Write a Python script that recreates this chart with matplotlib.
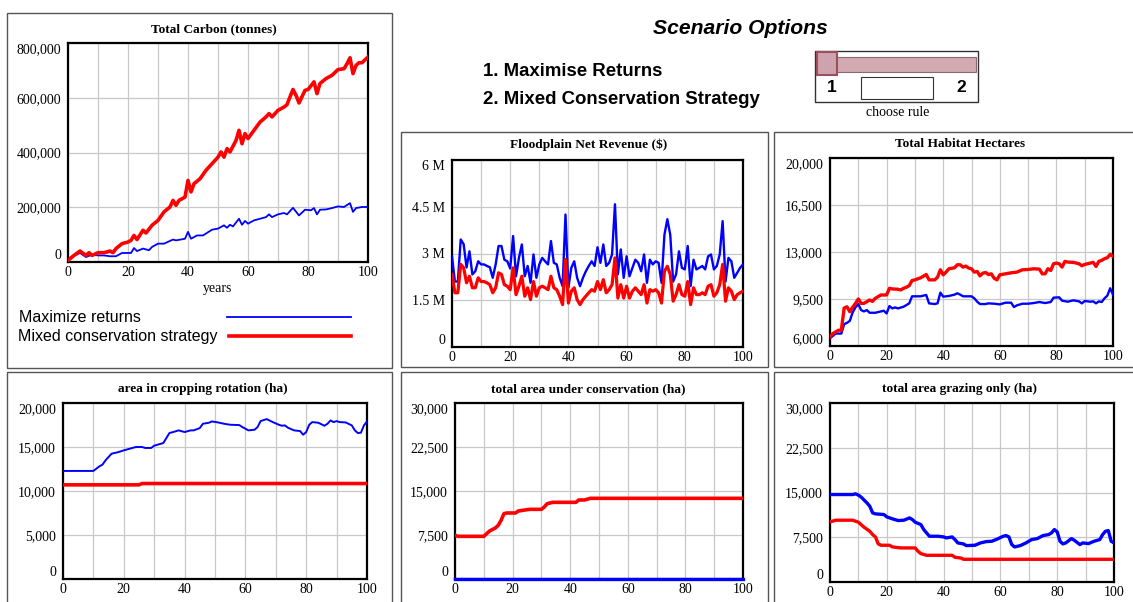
import numpy as np
import matplotlib.pyplot as plt
from matplotlib.patches import Rectangle

W, H = 1133, 602
BLUE = '#0000ff'
RED = '#ff0000'
SERIF = 'Liberation Serif'
SANS = 'Liberation Sans'

# ---- data ----
# Total Carbon, thousand tonnes
carbon_blue_yr = [0, 1, 2, 4, 6, 8, 10, 12, 14, 16, 18, 20, 21, 22, 23, 25, 27, 28, 30, 32, 34, 35, 36, 39,
                  40, 41, 43, 45, 48, 50, 52, 53, 54, 55, 57, 58, 59, 60, 62, 64, 66, 67, 68, 70, 72, 73,
                  75, 77, 79, 81, 82, 83, 84, 86, 88, 90, 92, 94, 95, 96, 98, 100]
carbon_blue = [0, 18, 22, 33, 18, 27, 24, 24, 21, 21, 33, 33, 33, 51, 40, 49, 43, 55, 67, 67, 77, 82, 79, 85,
               110, 85, 97, 97, 118, 122, 134, 125, 136, 130, 158, 136, 150, 140, 152, 158, 164, 174, 164,
               174, 179, 174, 198, 170, 191, 189, 197, 174, 191, 192, 197, 203, 201, 215, 183, 197, 201, 201]
carbon_red_yr = [0, 2, 4, 6, 7, 8, 10, 12, 14, 15, 16, 18, 20, 21, 22, 23, 25, 26, 28, 30, 32, 34, 35, 36, 37,
                 39, 40, 41, 42, 44, 46, 48, 50, 51, 52, 53, 54, 56, 57, 58, 59, 60, 62, 64, 66, 67, 68, 70,
                 72, 73, 74, 75, 76, 77, 79, 80, 82, 83, 84, 86, 88, 90, 92, 93, 94, 95, 96, 97, 98, 100]
carbon_red = [6, 24, 40, 24, 34, 24, 34, 34, 40, 34, 49, 67, 73, 79, 97, 82, 116, 106, 134, 152, 183, 201, 225,
              207, 225, 237, 298, 256, 286, 304, 335, 359, 383, 402, 383, 414, 402, 444, 481, 432, 469, 451,
              481, 511, 530, 542, 530, 554, 566, 575, 603, 630, 609, 581, 627, 630, 658, 615, 652, 670, 682,
              703, 706, 724, 746, 688, 718, 728, 728, 749]

# Floodplain Net Revenue, million $ (one value per year 0..100)
years = np.arange(0, 101)
flood_blue = [2.91, 2.1, 2.1, 3.45, 3.3, 2.55, 3.07, 2.33, 2.43, 2.75,
              2.65, 2.65, 2.6, 2.56, 2.22, 2.65, 3.24, 3.24, 2.8, 2.75,
              2.52, 3.56, 2.27, 2.86, 3.29, 2.27, 2.6, 2.06, 2.97, 2.22,
              2.65, 2.86, 2.75, 2.65, 3.4, 2.7, 2.65, 2.22, 1.95, 4.25,
              1.9, 2.54, 2.75, 2.22, 1.95, 2.22, 2.43, 2.6, 2.75, 2.6,
              3.2, 2.7, 3.29, 2.6, 2.7, 2.97, 4.58, 2.33, 3.13, 2.22,
              2.91, 2.27, 2.54, 2.8, 2.7, 2.43, 2.97, 2.06, 2.8, 2.65,
              2.75, 2.7, 2.06, 3.6, 4.1, 3.6, 2.1, 2.33, 3.07, 2.54,
              2.49, 3.24, 1.95, 2.8, 2.49, 2.54, 2.6, 2.49, 2.91, 2.97,
              2.49, 2.6, 2.97, 4.04, 2.1, 2.86, 2.75, 2.22, 2.38, 2.54,
              2.65]
flood_red = [2.33, 1.74, 1.74, 2.65, 2.54, 2.06, 2.27, 1.9, 1.9, 2.22,
             2.1, 2.1, 2.06, 2.0, 1.74, 1.9, 2.38, 2.33, 2.0, 1.95,
             1.84, 2.54, 1.68, 1.95, 2.27, 1.63, 1.9, 1.52, 2.1, 1.63,
             1.9, 1.95, 1.9, 1.84, 2.27, 1.9, 1.84, 1.63, 1.36, 2.81,
             1.41, 1.79, 1.9, 1.52, 1.36, 1.52, 1.63, 1.74, 1.84, 1.79,
             2.1, 1.84, 2.16, 1.74, 1.84, 2.0, 2.86, 1.57, 2.0, 1.57,
             1.95, 1.57, 1.79, 1.9, 1.79, 1.68, 2.0, 1.41, 1.84, 1.79,
             1.84, 1.74, 1.41, 2.43, 2.59, 2.33, 1.47, 1.68, 2.0, 1.68,
             1.63, 2.1, 1.36, 1.9, 1.68, 1.68, 1.74, 1.68, 1.95, 2.0,
             1.63, 1.74, 2.0, 2.65, 1.47, 1.9, 1.79, 1.52, 1.68, 1.74,
             1.79]

# Total Habitat Hectares
hab_blue_yr = [0, 2, 4, 5, 6, 7, 8, 9, 10, 11, 12, 13, 14, 16, 18, 19, 20, 21, 22, 23, 24, 26, 28, 29, 30, 32,
               34, 35, 37, 38, 39, 40, 42, 44, 45, 46, 47, 50, 51, 52, 53, 55, 56, 58, 60, 62, 64, 65, 66,
               68, 70, 72, 74, 76, 78, 79, 81, 82, 84, 86, 88, 89, 90, 92, 93, 94, 95, 96, 97, 98, 99, 100]
hab_blue = [6575, 6925, 6925, 7625, 7725, 7875, 8500, 8875, 9125, 8675, 8575, 8675, 8475, 8475, 8575, 8625,
            8425, 8975, 8800, 8875, 8800, 8925, 9175, 9700, 9700, 9700, 9800, 9175, 9125, 9175, 9975, 9675,
            9725, 9825, 9925, 9825, 9700, 9700, 9550, 9300, 9125, 9125, 9175, 9150, 9100, 9225, 9225, 8900,
            9025, 9150, 9150, 9200, 9275, 9200, 9275, 9600, 9625, 9375, 9300, 9400, 9325, 9175, 9350, 9300,
            9325, 9175, 9325, 9275, 9550, 9750, 10300, 9825]
hab_red_yr = [0, 1, 3, 4, 5, 6, 7, 8, 9, 10, 11, 12, 14, 15, 16, 18, 20, 21, 22, 24, 25, 26, 27, 28, 29, 30,
              32, 34, 35, 37, 38, 39, 40, 41, 42, 44, 45, 46, 47, 48, 49, 50, 51, 52, 53, 54, 55, 56, 57,
              58, 59, 60, 62, 64, 66, 68, 70, 72, 74, 75, 76, 77, 78, 79, 80, 81, 82, 83, 84, 86, 88, 89,
              90, 92, 93, 94, 95, 96, 97, 98, 99, 100]
hab_red = [6675, 6925, 7175, 7175, 8825, 8925, 8550, 8875, 9175, 9500, 9175, 9175, 9425, 9325, 9550, 9800,
           9800, 10300, 10250, 10225, 10175, 10300, 10375, 10500, 10875, 10925, 11075, 11325, 10925, 10925,
           11125, 11675, 11300, 11500, 11750, 11825, 12050, 12050, 11875, 11950, 11800, 11750, 11500, 11550,
           11225, 11425, 11475, 11325, 11375, 11050, 10925, 11300, 11375, 11450, 11500, 11675, 11700, 11750,
           11725, 11375, 11375, 11750, 11625, 12125, 12175, 12125, 11875, 12300, 12250, 12225, 12125, 11975,
           12075, 12175, 12225, 11925, 12300, 12375, 12500, 12575, 12825, 12675]

# area in cropping rotation (ha)
crop_blue_yr = [0, 10, 12, 13, 14, 16, 18, 20, 22, 24, 26, 27, 29, 30, 33, 35, 37, 38, 40, 42, 43, 45, 46, 48,
                49, 51, 53, 55, 58, 59, 61, 63, 64, 65, 67, 69, 71, 72, 73, 74, 76, 78, 79, 80, 81, 82, 84,
                86, 87, 88, 89, 90, 91, 93, 95, 96, 97, 98, 99, 100]
crop_blue = [12280, 12280, 12810, 13000, 13490, 14245, 14400, 14620, 14810, 15000, 15000, 14890, 14890, 15150,
             15450, 16585, 16775, 16890, 16700, 16890, 16890, 17150, 17640, 17755, 17905, 17790, 17640, 17530,
             17490, 17265, 16890, 16960, 17265, 17945, 18170, 17830, 17530, 17415, 17455, 17190, 16890, 16810,
             16395, 16700, 17530, 17830, 17755, 17415, 17640, 18020, 17830, 17945, 17830, 17790, 17455, 16890,
             16585, 16625, 17455, 17905]
crop_red_yr = [0, 25, 26, 100]
crop_red = [10700, 10700, 10850, 10850]

# total area under conservation (ha)
cons_red_yr = [0, 1, 10, 11, 12, 14, 15, 16, 17, 18, 21, 22, 25, 26, 30, 31, 32, 34, 42, 43, 45, 47, 100]
cons_red = [7440, 7270, 7270, 7730, 8180, 8690, 9150, 10000, 11140, 11250, 11250, 11590, 11820, 11875, 11875,
            12270, 12840, 13070, 13070, 13470, 13470, 13750, 13750]
cons_blue_yr = [0, 100]
cons_blue = [0, 0]

# total area grazing only (ha)
graze_blue_yr = [0, 8, 9, 10, 11, 13, 14, 15, 16, 19, 20, 22, 24, 26, 28, 29, 30, 32, 33, 35, 38, 40, 41, 43,
                 44, 45, 47, 48, 51, 53, 55, 57, 59, 61, 62, 63, 64, 65, 67, 69, 71, 73, 75, 77, 78, 79, 80,
                 81, 82, 83, 85, 86, 88, 89, 91, 93, 95, 96, 97, 98, 99, 100]
graze_blue = [14660, 14660, 14780, 14550, 14220, 13265, 12705, 11590, 11420, 11305, 10915, 10580, 10300, 10355,
              10745, 10465, 10020, 9625, 8790, 7670, 7670, 7555, 7390, 7555, 7110, 6550, 6380, 6100, 6155,
              6550, 6770, 6830, 7220, 7670, 7780, 7555, 6270, 5875, 6100, 6550, 7110, 7275, 7780, 7950, 8230,
              8790, 8395, 6830, 6380, 6550, 7275, 7000, 6270, 6550, 6435, 6830, 7110, 7950, 8505, 8620, 6830,
              6550]
graze_red_yr = [0, 2, 8, 10, 12, 14, 15, 16, 17, 18, 21, 22, 25, 30, 31, 32, 34, 43, 44, 46, 47, 100]
graze_red = [10075, 10355, 10355, 10020, 9180, 8505, 7950, 7555, 6380, 6155, 6155, 5875, 5710, 5710, 5150,
             4755, 4475, 4475, 4140, 4030, 3805, 3805]

# axis labels
carbon_ticks = [0, 200, 400, 600, 800]
carbon_labels = ['0', '200,000', '400,000', '600,000', '800,000']
flood_ticks = [0, 1.5, 3, 4.5, 6]
flood_labels = ['0', '1.5 M', '3 M', '4.5 M', '6 M']
hab_ticks = [6000, 9500, 13000, 16500, 20000]
hab_labels = ['6,000', '9,500', '13,000', '16,500', '20,000']
crop_ticks = [0, 5000, 10000, 15000, 20000]
crop_labels = ['0', '5,000', '10,000', '15,000', '20,000']
area_ticks = [0, 7500, 15000, 22500, 30000]
area_labels = ['0', '7,500', '15,000', '22,500', '30,000']

# ---- figure ----
fig = plt.figure(figsize=(W / 100, H / 100), dpi=100)
bg = fig.add_axes([0, 0, 1, 1], zorder=0)
bg.set_xlim(0, W)
bg.set_ylim(H, 0)
bg.axis('off')


def px_axes(l, t, r, b):
    return fig.add_axes([l / W, 1 - b / H, (r - l) / W, (b - t) / H], zorder=1)


def style(ax, yticks, ylabels):
    ax.set_xlim(0, 100)
    ax.set_ylim(yticks[0], yticks[-1])
    ax.set_xticks([0, 20, 40, 60, 80, 100])
    ax.set_xticks([10, 30, 50, 70, 90], minor=True)
    ax.set_yticks(yticks, ylabels)
    ax.grid(True, which='both', color='#c8c8c8', lw=0.9)
    ax.set_axisbelow(True)
    ax.tick_params(which='both', length=0, labelsize=10)
    ax.tick_params(axis='x', pad=3)
    ax.tick_params(axis='y', pad=5)
    for lab in ax.get_xticklabels() + ax.get_yticklabels():
        lab.set_fontfamily(SERIF)
    labs = ax.get_yticklabels()
    labs[0].set_va('bottom')
    labs[-1].set_va('top')
    for s in ax.spines.values():
        s.set_linewidth(1.6)
        s.set_color('black')


def frame(x0, y0, x1, y1):
    bg.add_patch(Rectangle((x0, y0), x1 - x0, y1 - y0, fill=False, ec='#555555', lw=1))


def title(x, y, s):
    bg.text(x, y, s, ha='center', va='center', fontsize=9.6, fontweight='bold', family=SERIF)


# panel frames
frame(7, 13, 392, 368)
frame(401, 132, 768, 367)
frame(774, 132, 1140, 367)
frame(7, 372, 392, 610)
frame(401, 372, 768, 610)
frame(774, 372, 1140, 610)

# Total Carbon
ax = px_axes(68, 43, 368, 262)
ax.plot(carbon_blue_yr, np.array(carbon_blue), color=BLUE, lw=1.3, zorder=3)
ax.plot(carbon_red_yr, np.array(carbon_red), color=RED, lw=2.6, zorder=3)
style(ax, carbon_ticks, carbon_labels)
ax.set_xlabel('years', family=SERIF, fontsize=10, labelpad=2)
title(214, 29, 'Total Carbon (tonnes)')
bg.text(19, 317, 'Maximize returns', family=SANS, fontsize=11.5, va='center')
bg.text(18, 337, 'Mixed conservation strategy', family=SANS, fontsize=11.5, va='center')
bg.plot([227, 351], [317, 317], color=BLUE, lw=1.3)
bg.plot([229, 351], [336, 336], color=RED, lw=2.6)

# Floodplain Net Revenue
ax = px_axes(452, 160, 743, 347)
ax.plot(years, flood_blue, color=BLUE, lw=1.7, zorder=3)
ax.plot(years, flood_red, color=RED, lw=2.3, zorder=3)
style(ax, flood_ticks, flood_labels)
title(589, 145, 'Floodplain Net Revenue ($)')

# Total Habitat Hectares
ax = px_axes(830, 158, 1113, 346)
ax.plot(hab_blue_yr, hab_blue, color=BLUE, lw=1.7, zorder=3)
ax.plot(hab_red_yr, hab_red, color=RED, lw=2.4, zorder=3)
style(ax, hab_ticks, hab_labels)
title(960, 144, 'Total Habitat Hectares')

# area in cropping rotation
ax = px_axes(63, 403, 367, 579)
ax.plot(crop_blue_yr, crop_blue, color=BLUE, lw=1.4, zorder=3)
ax.plot(crop_red_yr, crop_red, color=RED, lw=2.6, zorder=3)
style(ax, crop_ticks, crop_labels)
title(203, 389, 'area in cropping rotation (ha)')

# total area under conservation
ax = px_axes(455, 403, 743, 579)
ax.plot(cons_blue_yr, cons_blue, color=BLUE, lw=2.4, zorder=3, clip_on=False)
ax.plot(cons_red_yr, cons_red, color=RED, lw=2.6, zorder=3)
style(ax, area_ticks, area_labels)
title(588, 389, 'total area under conservation (ha)')

# total area grazing only
ax = px_axes(830, 403, 1114, 582)
ax.plot(graze_blue_yr, graze_blue, color=BLUE, lw=2.4, zorder=3)
ax.plot(graze_red_yr, graze_red, color=RED, lw=2.4, zorder=3)
style(ax, area_ticks, area_labels)
title(960, 389, 'total area grazing only (ha)')

# scenario options
bg.text(740, 28, 'Scenario Options', family=SANS, fontsize=15.2, fontweight='bold',
        style='italic', ha='center', va='center')
bg.text(483, 72, '1. Maximise Returns', family=SANS, fontsize=13.4, fontweight='bold', va='center')
bg.text(483, 100, '2. Mixed Conservation Strategy', family=SANS, fontsize=13.4, fontweight='bold', va='center')

# slider widget
bg.add_patch(Rectangle((815, 51), 163, 51, fc='white', ec='#333333', lw=1))
bg.add_patch(Rectangle((817, 57), 159, 15, fc='#d4aab2', ec='#8a6a70', lw=0.8))
bg.add_patch(Rectangle((817, 52), 20, 23, fc='#cfa3ad', ec='#9a5060', lw=1.5))
bg.add_patch(Rectangle((861, 77), 72, 22, fc='white', ec='#333333', lw=0.8))
bg.text(832, 88, '1', family=SANS, fontsize=12.5, fontweight='bold', ha='center', va='center')
bg.text(961, 88, '2', family=SANS, fontsize=12.5, fontweight='bold', ha='center', va='center')
bg.text(898, 113, 'choose rule', family=SERIF, fontsize=10, ha='center', va='center')

fig.savefig('out.png', dpi=100)
